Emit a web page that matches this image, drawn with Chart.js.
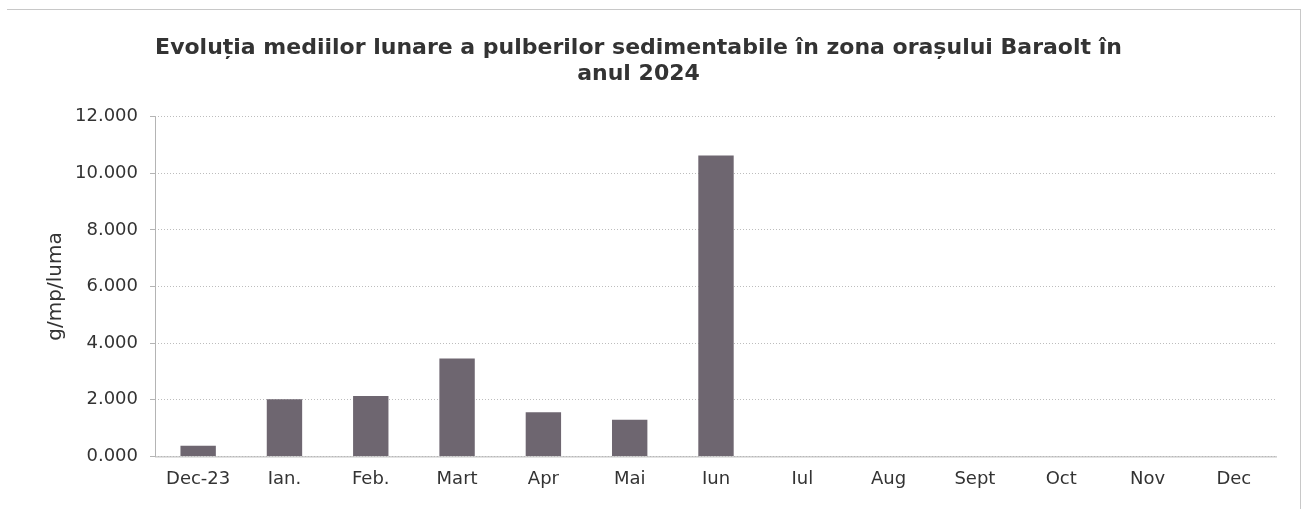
<!DOCTYPE html>
<html>
<head>
<meta charset="utf-8">
<script src="https://cdn.jsdelivr.net/npm/chart.js@4.4.0/dist/chart.umd.min.js"></script>
<style>
  html, body { margin: 0; padding: 0; background: #fff; }
  #wrap { position: absolute; left: 7px; top: 9px; width: 1294px; height: 500px; border-top: 1px solid #c8c8c8; border-right: 1px solid #c8c8c8; box-sizing: border-box; }
  #box { position: absolute; left: 0; top: 0; width: 1305px; height: 510px; }
</style>
</head>
<body>
<div id="wrap"></div>
<div id="box"><canvas id="pulberi" width="1305" height="510"></canvas></div>
<script>
const luni = ['Dec-23', 'Ian.', 'Feb.', 'Mart', 'Apr', 'Mai', 'Iun', 'Iul', 'Aug', 'Sept', 'Oct', 'Nov', 'Dec'];
const medii = [0.38, 2.02, 2.13, 3.46, 1.56, 1.29, 10.63, null, null, null, null, null, null];
const titlu = ['Evoluția mediilor lunare a pulberilor sedimentabile în zona orașului Baraolt în', 'anul 2024'];
const unitate = 'g/mp/luma';

Chart.defaults.font.family = "'DejaVu Sans', sans-serif";
Chart.defaults.color = '#333';

// axis lines drawn solid, grid lines dotted
const axe = {
  id: 'axe',
  afterDatasetsDraw(c) {
    const a = c.chartArea, g = c.ctx;
    g.save();
    g.strokeStyle = '#b4b4b4';
    g.lineWidth = 1;
    g.beginPath();
    g.moveTo(a.left + 0.5, a.top);
    g.lineTo(a.left + 0.5, a.bottom);
    g.moveTo(a.left, a.bottom + 0.5);
    g.lineTo(a.right, a.bottom + 0.5);
    g.stroke();
    g.restore();
  },
};

const chart = new Chart(document.getElementById('pulberi'), {
  type: 'bar',
  data: {
    labels: luni,
    datasets: [{
      data: medii,
      backgroundColor: '#6e6670',
      barPercentage: 0.41,
      categoryPercentage: 1.0,
    }],
  },
  options: {
    responsive: false,
    animation: false,
    layout: { padding: { left: 0, right: 28, top: 36, bottom: 8 } },
    plugins: {
      legend: { display: false },
      tooltip: { enabled: false },
      title: {
        display: true,
        text: titlu,
        color: '#333',
        font: { size: 22, weight: 'bold', lineHeight: 1.15 },
        padding: { top: 0, bottom: 30 },
      },
    },
    scales: {
      x: {
        grid: { display: false, drawTicks: false },
        border: { display: false },
        ticks: { font: { size: 18 }, padding: 12 },
      },
      y: {
        min: 0,
        max: 12,
        afterFit: (s) => { s.width = 155; },
        ticks: {
          stepSize: 2,
          font: { size: 18 },
          padding: 12,
          callback: (v) => v.toFixed(3),
        },
        grid: { color: '#bdbdbd', lineWidth: 1, drawTicks: true, tickLength: 5, tickColor: '#b4b4b4' },
        border: { display: false, dash: [1, 2] },
        title: { display: true, text: unitate, font: { size: 20 }, padding: { top: 44, bottom: 0 } },
      },
    },
  },
  plugins: [axe],
});
</script>
</body>
</html>
